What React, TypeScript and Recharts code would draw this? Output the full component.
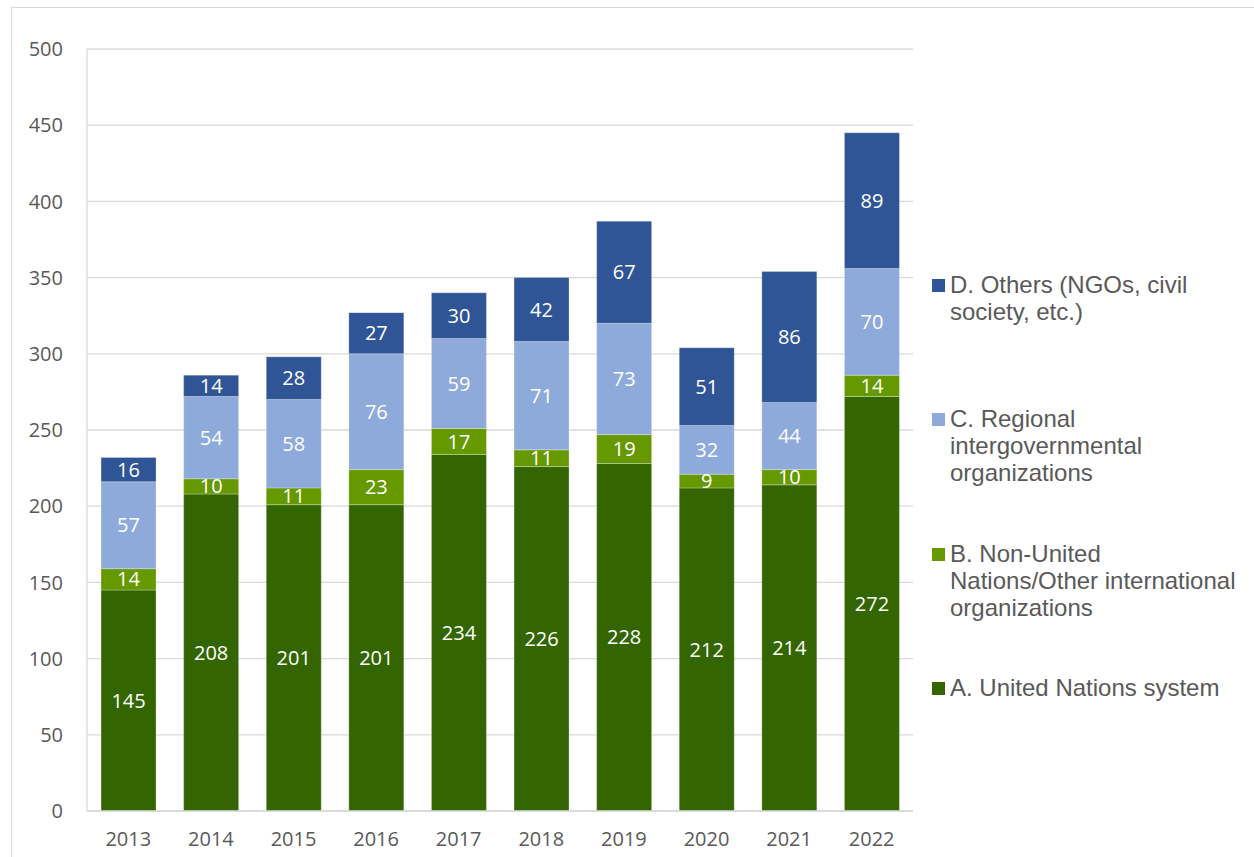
import { BarChart, Bar, XAxis, YAxis, CartesianGrid, LabelList } from "recharts";

// Years on the x axis
const years = ["2013", "2014", "2015", "2016", "2017", "2018", "2019", "2020", "2021", "2022"];

// Series values (bottom to top of each stack)
const unSystem = [145, 208, 201, 201, 234, 226, 228, 212, 214, 272];
const nonUn = [14, 10, 11, 23, 17, 11, 19, 9, 10, 14];
const regional = [57, 54, 58, 76, 59, 71, 73, 32, 44, 70];
const others = [16, 14, 28, 27, 30, 42, 67, 51, 86, 89];

const yTicks = [0, 50, 100, 150, 200, 250, 300, 350, 400, 450, 500];

const seriesNames = [
  "A. United Nations system",
  "B. Non-United Nations/Other international organizations",
  "C. Regional intergovernmental organizations",
  "D. Others (NGOs, civil society, etc.)",
];
const seriesKeys = ["a", "b", "c", "d"];
const seriesColors = ["#336600", "#669900", "#8eaadb", "#2f5597"];

const data = years.map((year, i) => ({
  year,
  a: unSystem[i],
  b: nonUn[i],
  c: regional[i],
  d: others[i],
}));

const tickStyle = { fill: "#595959", fontSize: 20, fontFamily: "Open Sans" };

// legend entries listed top-down like the original (D first)
function ChartLegend() {
  const order = [3, 2, 1, 0];
  return (
    <div style={{ position: "absolute", left: 932, top: 271, width: 320, height: 440 }}>
      {order.map((idx, n) => (
        <div
          key={seriesKeys[idx]}
          style={{
            position: "absolute",
            left: 0,
            top: n * 134.3,
            width: 310,
            display: "flex",
            alignItems: "flex-start",
          }}
        >
          <span
            style={{
              display: "inline-block",
              width: 13,
              height: 13,
              marginTop: 8,
              marginRight: 5,
              background: seriesColors[idx],
              flexShrink: 0,
            }}
          />
          <span
            style={{
              fontFamily: "'Liberation Sans', Arial, sans-serif",
              fontSize: 24,
              lineHeight: "27px",
              color: "#595959",
              width: 292,
            }}
          >
            {seriesNames[idx]}
          </span>
        </div>
      ))}
    </div>
  );
}

export default function App() {
  return (
    <div style={{ position: "absolute", left: 0, top: 0, width: 1254, height: 857, background: "#fff", overflow: "hidden" }}>
      {/* outer frame */}
      <div
        style={{
          position: "absolute",
          left: 11,
          top: 7,
          width: 1300,
          height: 900,
          border: "1px solid #d9d9d9",
        }}
      />
      <BarChart
        width={1254}
        height={857}
        data={data}
        margin={{ top: 49, right: 341, left: 0, bottom: 0 }}
        barCategoryGap="17%"
        style={{ fontFamily: "Open Sans" }}
      >
        <CartesianGrid vertical={false} stroke="#d9d9d9" strokeWidth={1.3} />
        <XAxis
          dataKey="year"
          height={46}
          tickLine={false}
          tickSize={0}
          tickMargin={21}
          axisLine={{ stroke: "#d9d9d9", strokeWidth: 1.3 }}
          tick={tickStyle}
        />
        <YAxis
          width={87}
          domain={[0, 500]}
          ticks={yTicks}
          interval={0}
          tickLine={false}
          tickSize={0}
          tickMargin={24}
          axisLine={{ stroke: "#d9d9d9", strokeWidth: 1.3 }}
          tick={tickStyle}
        />
        {seriesKeys.map((key, i) => (
          <Bar
            key={key}
            dataKey={key}
            name={seriesNames[i]}
            stackId="total"
            fill={seriesColors[i]}
            stroke="#ffffff"
            strokeOpacity={0.35}
            strokeWidth={0.8}
            isAnimationActive={false}
          >
            <LabelList
              dataKey={key}
              position="center"
              fill="#ffffff"
              fontSize={20}
              fontFamily="Open Sans"
            />
          </Bar>
        ))}
      </BarChart>
      <ChartLegend />
    </div>
  );
}
